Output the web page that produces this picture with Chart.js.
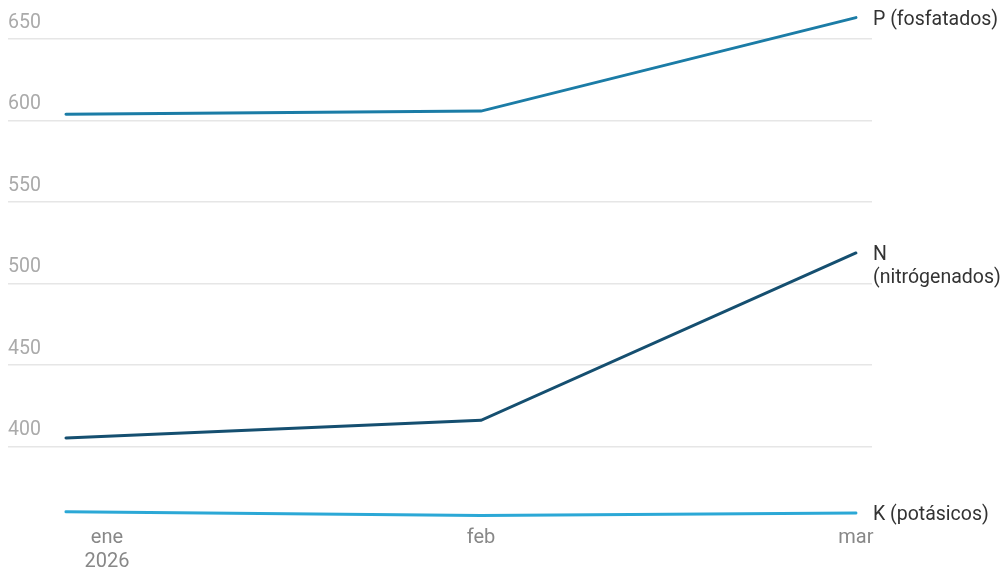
<!DOCTYPE html>
<html>
<head>
<meta charset="utf-8">
<script src="https://cdn.jsdelivr.net/npm/chart.js@4"></script>
<style>
  html, body { margin: 0; padding: 0; background: #fff; }
  #wrap { width: 1003px; height: 572px; }
</style>
</head>
<body>
<div id="wrap"><canvas id="chart"></canvas></div>
<script>
const months = ['ene', 'feb', 'mar']
const monthLabels = [['ene', '2026'], ['feb'], ['mar']]
const monthDays = [0, 31, 59]   // days since 1 Jan 2026
const yTicks = [400, 450, 500, 550, 600, 650]

const fosfatados = [603.7, 605.7, 663]
const nitrogenados = [405.3, 416.1, 518.7]
const potasicos = [360.1, 357.8, 359.3]

const seriesNames = [['P (fosfatados)'], ['N', '(nitrógenados)'], ['K (potásicos)']]

const pColor = '#1b7ca6'
const nColor = '#154f70'
const kColor = '#2ba8d6'

function toPoints (values) {
  return values.map((v, i) => ({ x: monthDays[i], y: v }))
}

// Draws the series name to the right of the last point
const endLabels = {
  id: 'endLabels',
  afterDatasetsDraw (chart) {
    const ctx = chart.ctx
    ctx.save()
    ctx.font = '19.5px Roboto'
    ctx.fillStyle = '#333333'
    ctx.textAlign = 'left'
    ctx.textBaseline = 'middle'
    chart.data.datasets.forEach((ds, i) => {
      const meta = chart.getDatasetMeta(i)
      const last = meta.data[meta.data.length - 1]
      const lines = seriesNames[i]
      lines.forEach((line, j) => {
        ctx.fillText(line, chart.chartArea.right + 1, last.y + 2 + j * 23)
      })
    })
    ctx.restore()
  }
}

new Chart(document.getElementById('chart'), {
  type: 'line',
  data: {
    datasets: [
      { label: 'P (fosfatados)', data: toPoints(fosfatados), borderColor: pColor },
      { label: 'N (nitrógenados)', data: toPoints(nitrogenados), borderColor: nColor },
      { label: 'K (potásicos)', data: toPoints(potasicos), borderColor: kColor }
    ]
  },
  options: {
    responsive: true,
    maintainAspectRatio: false,
    animation: false,
    layout: { padding: { left: 8, right: 131, top: 16, bottom: 0 } },
    elements: {
      line: { borderWidth: 3, tension: 0, borderCapStyle: 'round' },
      point: { radius: 0 }
    },
    plugins: {
      legend: { display: false },
      tooltip: { enabled: false }
    },
    scales: {
      x: {
        type: 'linear',
        min: -4.33,
        max: 60.2,
        afterBuildTicks: (axis) => {
          // first label sits a bit to the right, like the original
          axis.ticks = [{ value: 3.06 }, { value: monthDays[1] }, { value: monthDays[2] }]
        },
        afterFit: (axis) => { axis.height = 52 },
        ticks: {
          callback: (value, index) => monthLabels[index],
          color: '#888888',
          font: { family: 'Roboto', size: 20, lineHeight: 1.2 },
          padding: 6,
          maxRotation: 0
        },
        grid: { display: false, drawTicks: false },
        border: { display: false }
      },
      y: {
        min: 355,
        max: 664,
        afterBuildTicks: (axis) => {
          axis.ticks = yTicks.map(v => ({ value: v }))
        },
        ticks: {
          mirror: true,
          padding: 0,
          labelOffset: -16,
          color: '#aaaaaa',
          font: { family: 'Roboto', size: 19.5 }
        },
        grid: { color: '#e6e6e6', lineWidth: 1.5, drawTicks: false },
        border: { display: false }
      }
    }
  },
  plugins: [endLabels]
})
</script>
</body>
</html>
